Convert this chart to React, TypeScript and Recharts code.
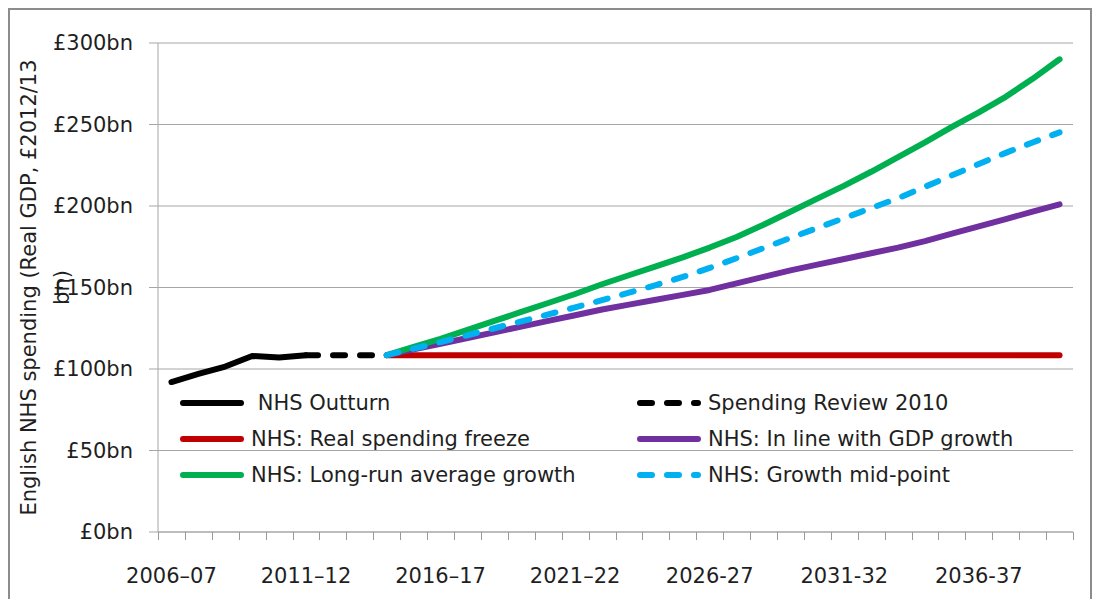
import React from 'react';
import { LineChart, Line, XAxis, YAxis, CartesianGrid } from 'recharts';

const FONT = '"DejaVu Sans", sans-serif';
const TEXT = '#1f1f1f';
const GRID = '#a6a6a6';

// financial years on the category axis
const years = [
  '2006–07', '2007–08', '2008–09', '2009–10', '2010–11', '2011–12', '2012–13', '2013–14',
  '2014–15', '2015–16', '2016–17', '2017–18', '2018–19', '2019–20', '2020–21', '2021–22',
  '2022–23', '2023–24', '2024–25', '2025–26', '2026-27', '2027-28', '2028-29', '2029-30',
  '2030-31', '2031-32', '2032-33', '2033-34', '2034-35', '2035-36', '2036-37', '2037-38',
  '2038-39', '2039-40',
];

const yTicks = [0, 50, 100, 150, 200, 250, 300];

// £bn, starting at 2006–07
const outturn = [92, 97, 101.5, 108, 107, 108.5];
// starting at 2011–12
const review = [108.5, 108.5, 108.5, 108.5];
// projections, all starting at 2014–15
const freeze = [
  108.5, 108.5, 108.5, 108.5, 108.5, 108.5, 108.5, 108.5, 108.5, 108.5, 108.5, 108.5, 108.5,
  108.5, 108.5, 108.5, 108.5, 108.5, 108.5, 108.5, 108.5, 108.5, 108.5, 108.5, 108.5, 108.5,
];
const gdp = [
  108.5, 112, 115.5, 119, 122.5, 126, 129.5, 133, 136.5, 139.5, 142.5, 145.5, 148.5,
  152.5, 156.5, 160.5, 164, 167.5, 171, 174.5, 178.5, 183, 187.5, 192, 196.5, 201,
];
const longRun = [
  108.5, 113.5, 118.5, 124, 129.5, 135, 140.5, 146, 152, 157.5, 163, 168.5, 174.5,
  181, 188.5, 196.5, 204.5, 212.5, 221, 230, 239, 248.5, 257.5, 267, 278, 290,
];
const midpoint = [
  108.5, 112.5, 116.5, 120.7, 125, 129.2, 133.5, 137.8, 142.2, 146.8, 151.5, 156.5, 162,
  168, 174.2, 180.4, 186.5, 192.6, 198.7, 204.8, 211.8, 218.8, 225.8, 232.6, 239, 245.2,
];

const REVIEW_START = years.indexOf('2011–12');
const PROJ_START = years.indexOf('2014–15');

const pick = (arr: number[], start: number, i: number) =>
  i >= start && i - start < arr.length ? arr[i - start] : null;

const rows = years.map((year, i) => ({
  year,
  outturn: pick(outturn, 0, i),
  review: pick(review, REVIEW_START, i),
  freeze: pick(freeze, PROJ_START, i),
  gdp: pick(gdp, PROJ_START, i),
  longRun: pick(longRun, PROJ_START, i),
  midpoint: pick(midpoint, PROJ_START, i),
}));

const series = [
  { key: 'outturn', name: ' NHS Outturn', color: '#000000', dash: undefined },
  { key: 'review', name: 'Spending Review 2010', color: '#000000', dash: '12 15' },
  { key: 'freeze', name: 'NHS: Real spending freeze', color: '#c00000', dash: undefined },
  { key: 'gdp', name: 'NHS: In line with GDP growth', color: '#7030a0', dash: undefined },
  { key: 'longRun', name: 'NHS: Long-run average growth', color: '#00b050', dash: undefined },
  { key: 'midpoint', name: 'NHS: Growth mid-point', color: '#00b0f0', dash: '12 15' },
];

const CHART_W = 1080;
const CHART_H = 595;
const MARGIN = { top: 33, right: 17, left: 0, bottom: 25 };
const Y_W = 148;
const TICK_SIZE = 8;
const TICK_MARGIN = 28;
const LABEL_EVERY = 5;
// half a category band: tick marks go on the band edges, labels in the middle
const HALF_BAND = (CHART_W - MARGIN.left - MARGIN.right - Y_W) / years.length / 2;

const YearTick = (props: any) => {
  const { x, y, payload, index } = props;
  const axisY = y - TICK_SIZE - TICK_MARGIN;
  const edge = (px: number) => Math.round(px) + 0.5;
  const last = index === years.length - 1;
  return (
    <g>
      <line x1={edge(x - HALF_BAND)} x2={edge(x - HALF_BAND)} y1={axisY} y2={axisY + TICK_SIZE} stroke="#999" />
      {last && (
        <line x1={edge(x + HALF_BAND)} x2={edge(x + HALF_BAND)} y1={axisY} y2={axisY + TICK_SIZE} stroke="#999" />
      )}
      {index % LABEL_EVERY === 0 && (
        <text x={x} y={y} dy="0.71em" textAnchor="middle" fill={TEXT} fontSize={21} fontFamily={FONT}>
          {payload.value}
        </text>
      )}
    </g>
  );
};

const YTitle = (props: any) => {
  const { viewBox } = props;
  const cy = viewBox.y + viewBox.height / 2;
  const x1 = viewBox.x + 26;
  const x2 = viewBox.x + 59;
  return (
    <g fill={TEXT} fontFamily={FONT} fontSize={21}>
      <text x={x1} y={cy} textAnchor="middle" transform={`rotate(-90 ${x1} ${cy})`}>
        English NHS spending (Real GDP, £2012/13
      </text>
      <text x={x2} y={cy} textAnchor="middle" transform={`rotate(-90 ${x2} ${cy})`}>
        bn)
      </text>
    </g>
  );
};

export default function App() {
  return (
    <div
      style={{
        position: 'relative',
        width: CHART_W,
        height: 600,
        borderTop: '2px solid #8c8c8c',
        borderLeft: '2px solid #8c8c8c',
        borderRight: '2px solid #8c8c8c',
        fontFamily: FONT,
        background: '#fff',
      }}
    >
      <LineChart width={CHART_W} height={CHART_H} data={rows} margin={MARGIN}>
        <CartesianGrid vertical={false} stroke={GRID} />
        <XAxis
          dataKey="year"
          scale="band"
          interval={0}
          stroke={GRID}
          tickLine={false}
          tickSize={TICK_SIZE}
          tickMargin={TICK_MARGIN}
          height={48}
          tick={YearTick}
        />
        <YAxis
          domain={[0, 300]}
          ticks={yTicks}
          interval={0}
          width={Y_W}
          tickSize={9}
          tickMargin={16}
          stroke={GRID}
          tick={{ fill: TEXT, fontSize: 21, fontFamily: FONT }}
          tickFormatter={(v: number) => `£${v}bn`}
          label={{ content: YTitle }}
        />
        {series.map((s) => (
          <Line
            key={s.key}
            dataKey={s.key}
            name={s.name}
            stroke={s.color}
            strokeWidth={6}
            strokeDasharray={s.dash}
            strokeLinecap="round"
            strokeLinejoin="round"
            dot={false}
            activeDot={false}
            isAnimationActive={false}
          />
        ))}
      </LineChart>

      <div
        style={{
          position: 'absolute',
          left: 169,
          top: 375,
          display: 'grid',
          gridTemplateColumns: '457px 420px',
        }}
      >
        {series.map((s) => (
          <div key={s.key} style={{ height: 36, display: 'flex', alignItems: 'center' }}>
            <svg width={66} height={12}>
              <line
                x1={4}
                y1={6}
                x2={62}
                y2={6}
                stroke={s.color}
                strokeWidth={6}
                strokeLinecap="round"
                strokeDasharray={s.dash}
              />
            </svg>
            <span style={{ marginLeft: 6, fontSize: 21, color: TEXT, whiteSpace: 'pre' }}>{s.name}</span>
          </div>
        ))}
      </div>
    </div>
  );
}
